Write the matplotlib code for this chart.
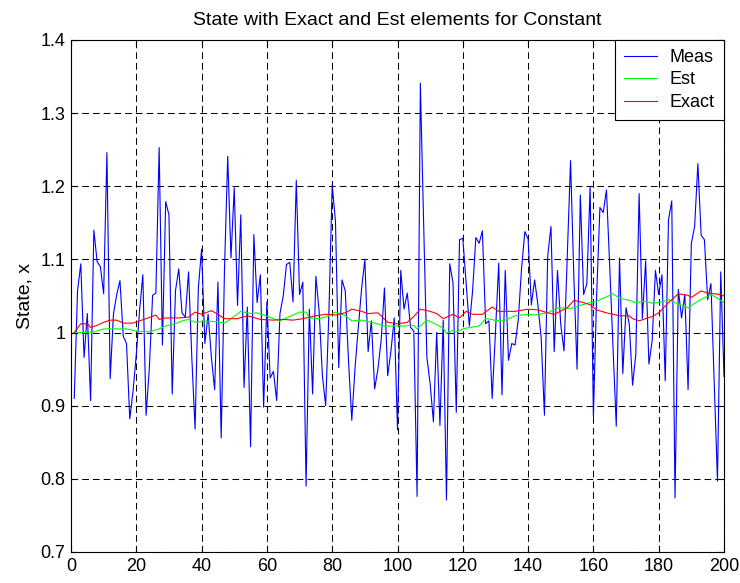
import numpy as np
import matplotlib
matplotlib.use('Agg')
import matplotlib.pyplot as plt
from matplotlib.ticker import FuncFormatter

# measured samples, k = 1..200
meas = [0.910, 1.057, 1.094, 0.966, 1.026, 0.907, 1.140, 1.097, 1.090, 1.053,
        1.246, 0.937, 1.025, 1.052, 1.071, 0.995, 0.985, 0.882, 0.920, 0.970,
        1.030, 1.079, 0.887, 0.952, 1.051, 1.054, 1.253, 0.983, 1.179, 1.161,
        0.916, 1.057, 1.087, 1.027, 1.021, 1.083, 0.966, 0.868, 1.061, 1.114,
        0.985, 1.025, 0.966, 0.922, 1.069, 0.856, 1.084, 1.241, 1.102, 1.198,
        1.037, 1.161, 0.925, 1.035, 0.844, 1.134, 1.041, 1.079, 0.898, 1.042,
        0.938, 0.947, 0.907, 1.026, 1.050, 1.093, 1.096, 1.042, 1.208, 1.052,
        1.069, 0.790, 1.032, 0.916, 1.077, 1.029, 0.941, 0.900, 1.029, 1.202,
        1.152, 0.952, 1.072, 1.057, 0.961, 0.880, 0.952, 1.007, 1.060, 1.100,
        0.974, 1.016, 0.923, 0.950, 0.990, 1.061, 0.941, 0.975, 1.020, 0.867,
        1.085, 1.032, 1.054, 1.007, 1.002, 0.776, 1.341, 1.150, 0.966, 0.930,
        0.878, 1.000, 0.873, 1.017, 0.771, 1.094, 1.068, 0.891, 1.127, 1.129,
        1.070, 1.009, 1.057, 1.130, 1.122, 1.139, 1.012, 1.016, 0.910, 1.000,
        1.095, 0.915, 1.085, 0.962, 0.985, 0.983, 1.018, 1.088, 1.138, 1.128,
        1.038, 1.072, 1.038, 0.993, 0.887, 1.104, 1.145, 0.974, 1.085, 1.011,
        0.975, 1.106, 1.235, 1.077, 0.950, 1.188, 1.052, 1.067, 1.200, 0.885,
        1.052, 1.171, 1.164, 1.195, 1.090, 0.980, 0.872, 1.102, 0.944, 1.034,
        1.011, 0.928, 0.971, 1.190, 1.019, 1.098, 0.957, 0.989, 1.085, 1.052,
        1.079, 0.934, 1.154, 1.180, 0.774, 1.059, 1.020, 1.052, 0.922, 1.122,
        1.145, 1.231, 1.133, 1.127, 1.045, 1.067, 0.930, 0.797, 1.083, 0.940]
k_meas = np.arange(1, len(meas) + 1)

# estimate (read at its visible vertices)
k_est = [1, 5, 7, 10, 12, 17, 20, 24, 27, 29, 32, 34, 36, 38, 41, 44, 47, 49,
         52, 55, 57, 59, 62, 64, 67, 70, 72, 73, 76, 79, 81, 84, 86, 89, 93, 96,
         99, 102, 105, 106, 109, 112, 114, 115, 117, 118, 120, 122, 125, 127,
         129, 130, 133, 136, 140, 142, 146, 149, 153, 155, 159, 161, 163, 166,
         168, 171, 173, 176, 178, 181, 183, 186, 189, 192, 196, 198, 200]
est = [1.000, 1.000, 1.001, 1.005, 1.005, 1.005, 1.002, 1.001, 1.005, 1.009,
       1.012, 1.016, 1.018, 1.014, 1.016, 1.015, 1.013, 1.019, 1.029, 1.026,
       1.027, 1.024, 1.019, 1.016, 1.022, 1.028, 1.028, 1.020, 1.019, 1.023,
       1.028, 1.023, 1.016, 1.017, 1.013, 1.009, 1.009, 1.009, 1.010, 1.005,
       1.017, 1.011, 1.006, 0.999, 1.003, 1.001, 1.005, 1.007, 1.009, 1.019,
       1.018, 1.016, 1.017, 1.023, 1.025, 1.024, 1.027, 1.034, 1.033, 1.036,
       1.041, 1.043, 1.047, 1.053, 1.047, 1.044, 1.041, 1.043, 1.040, 1.042,
       1.045, 1.039, 1.034, 1.043, 1.052, 1.047, 1.041]

# exact state
k_exact = [1, 3, 5, 6, 8, 10, 12, 14, 16, 19, 21, 23, 26, 27, 29, 33, 36, 38,
           40, 43, 45, 47, 51, 54, 58, 62, 65, 68, 71, 75, 78, 81, 84, 86, 89,
           91, 94, 97, 100, 103, 105, 107, 110, 112, 114, 117, 119, 121, 123,
           126, 129, 131, 133, 136, 140, 143, 146, 148, 152, 154, 157, 159, 161,
           164, 168, 171, 172, 174, 178, 180, 183, 186, 189, 190, 193, 195, 199,
           200]
exact = [1.000, 1.012, 1.012, 1.007, 1.010, 1.014, 1.017, 1.017, 1.013, 1.013,
         1.016, 1.019, 1.024, 1.018, 1.020, 1.020, 1.021, 1.028, 1.025, 1.030,
         1.025, 1.019, 1.019, 1.023, 1.018, 1.017, 1.018, 1.017, 1.019, 1.023,
         1.025, 1.024, 1.027, 1.032, 1.029, 1.026, 1.027, 1.014, 1.012, 1.014,
         1.022, 1.032, 1.029, 1.026, 1.019, 1.025, 1.020, 1.029, 1.025, 1.025,
         1.035, 1.029, 1.029, 1.029, 1.032, 1.031, 1.027, 1.025, 1.034, 1.044,
         1.041, 1.038, 1.031, 1.027, 1.023, 1.023, 1.019, 1.016, 1.022, 1.027,
         1.041, 1.053, 1.051, 1.048, 1.057, 1.054, 1.052, 1.050]

plt.rcParams['font.family'] = ['Liberation Sans', 'DejaVu Sans']

fig = plt.figure(figsize=(7.4, 5.83), dpi=100)
ax = fig.add_axes([71/740, 1 - 552/583, (724 - 71)/740, (552 - 40)/583])

ax.plot(k_meas, meas, color=(0, 0, 1), lw=0.8, label='Meas')
ax.plot(k_est, est, color=(0, 1, 0), lw=0.8, label='Est')
ax.plot(k_exact, exact, color=(1, 0, 0), lw=0.8, label='Exact')

ax.set_xlim(0, 200)
ax.set_ylim(0.7, 1.4)
ax.set_xticks(np.arange(0, 201, 20))
ax.set_yticks(np.arange(0.7, 1.41, 0.1))
ax.yaxis.set_major_formatter(FuncFormatter(lambda v, p: '%g' % round(v, 2)))
ax.tick_params(direction='in', top=True, right=True, labelsize=13, length=4,
               pad=4)
ax.grid(True, color='k', linestyle=(0, (6.4, 3.9)), lw=0.75)
for s in ax.spines.values():
    s.set_linewidth(0.8)

ax.set_title('State with Exact and Est elements for Constant', fontsize=14,
             pad=11)
ax.set_ylabel('State, x', fontsize=14, labelpad=5)

leg = ax.legend(loc='upper right', borderaxespad=0, fancybox=False,
                edgecolor='k', framealpha=1, fontsize=13, handlelength=1.85,
                handletextpad=0.7, labelspacing=0.3, borderpad=0.5)
leg.get_frame().set_linewidth(0.8)

fig.savefig('out.png', dpi=100)
